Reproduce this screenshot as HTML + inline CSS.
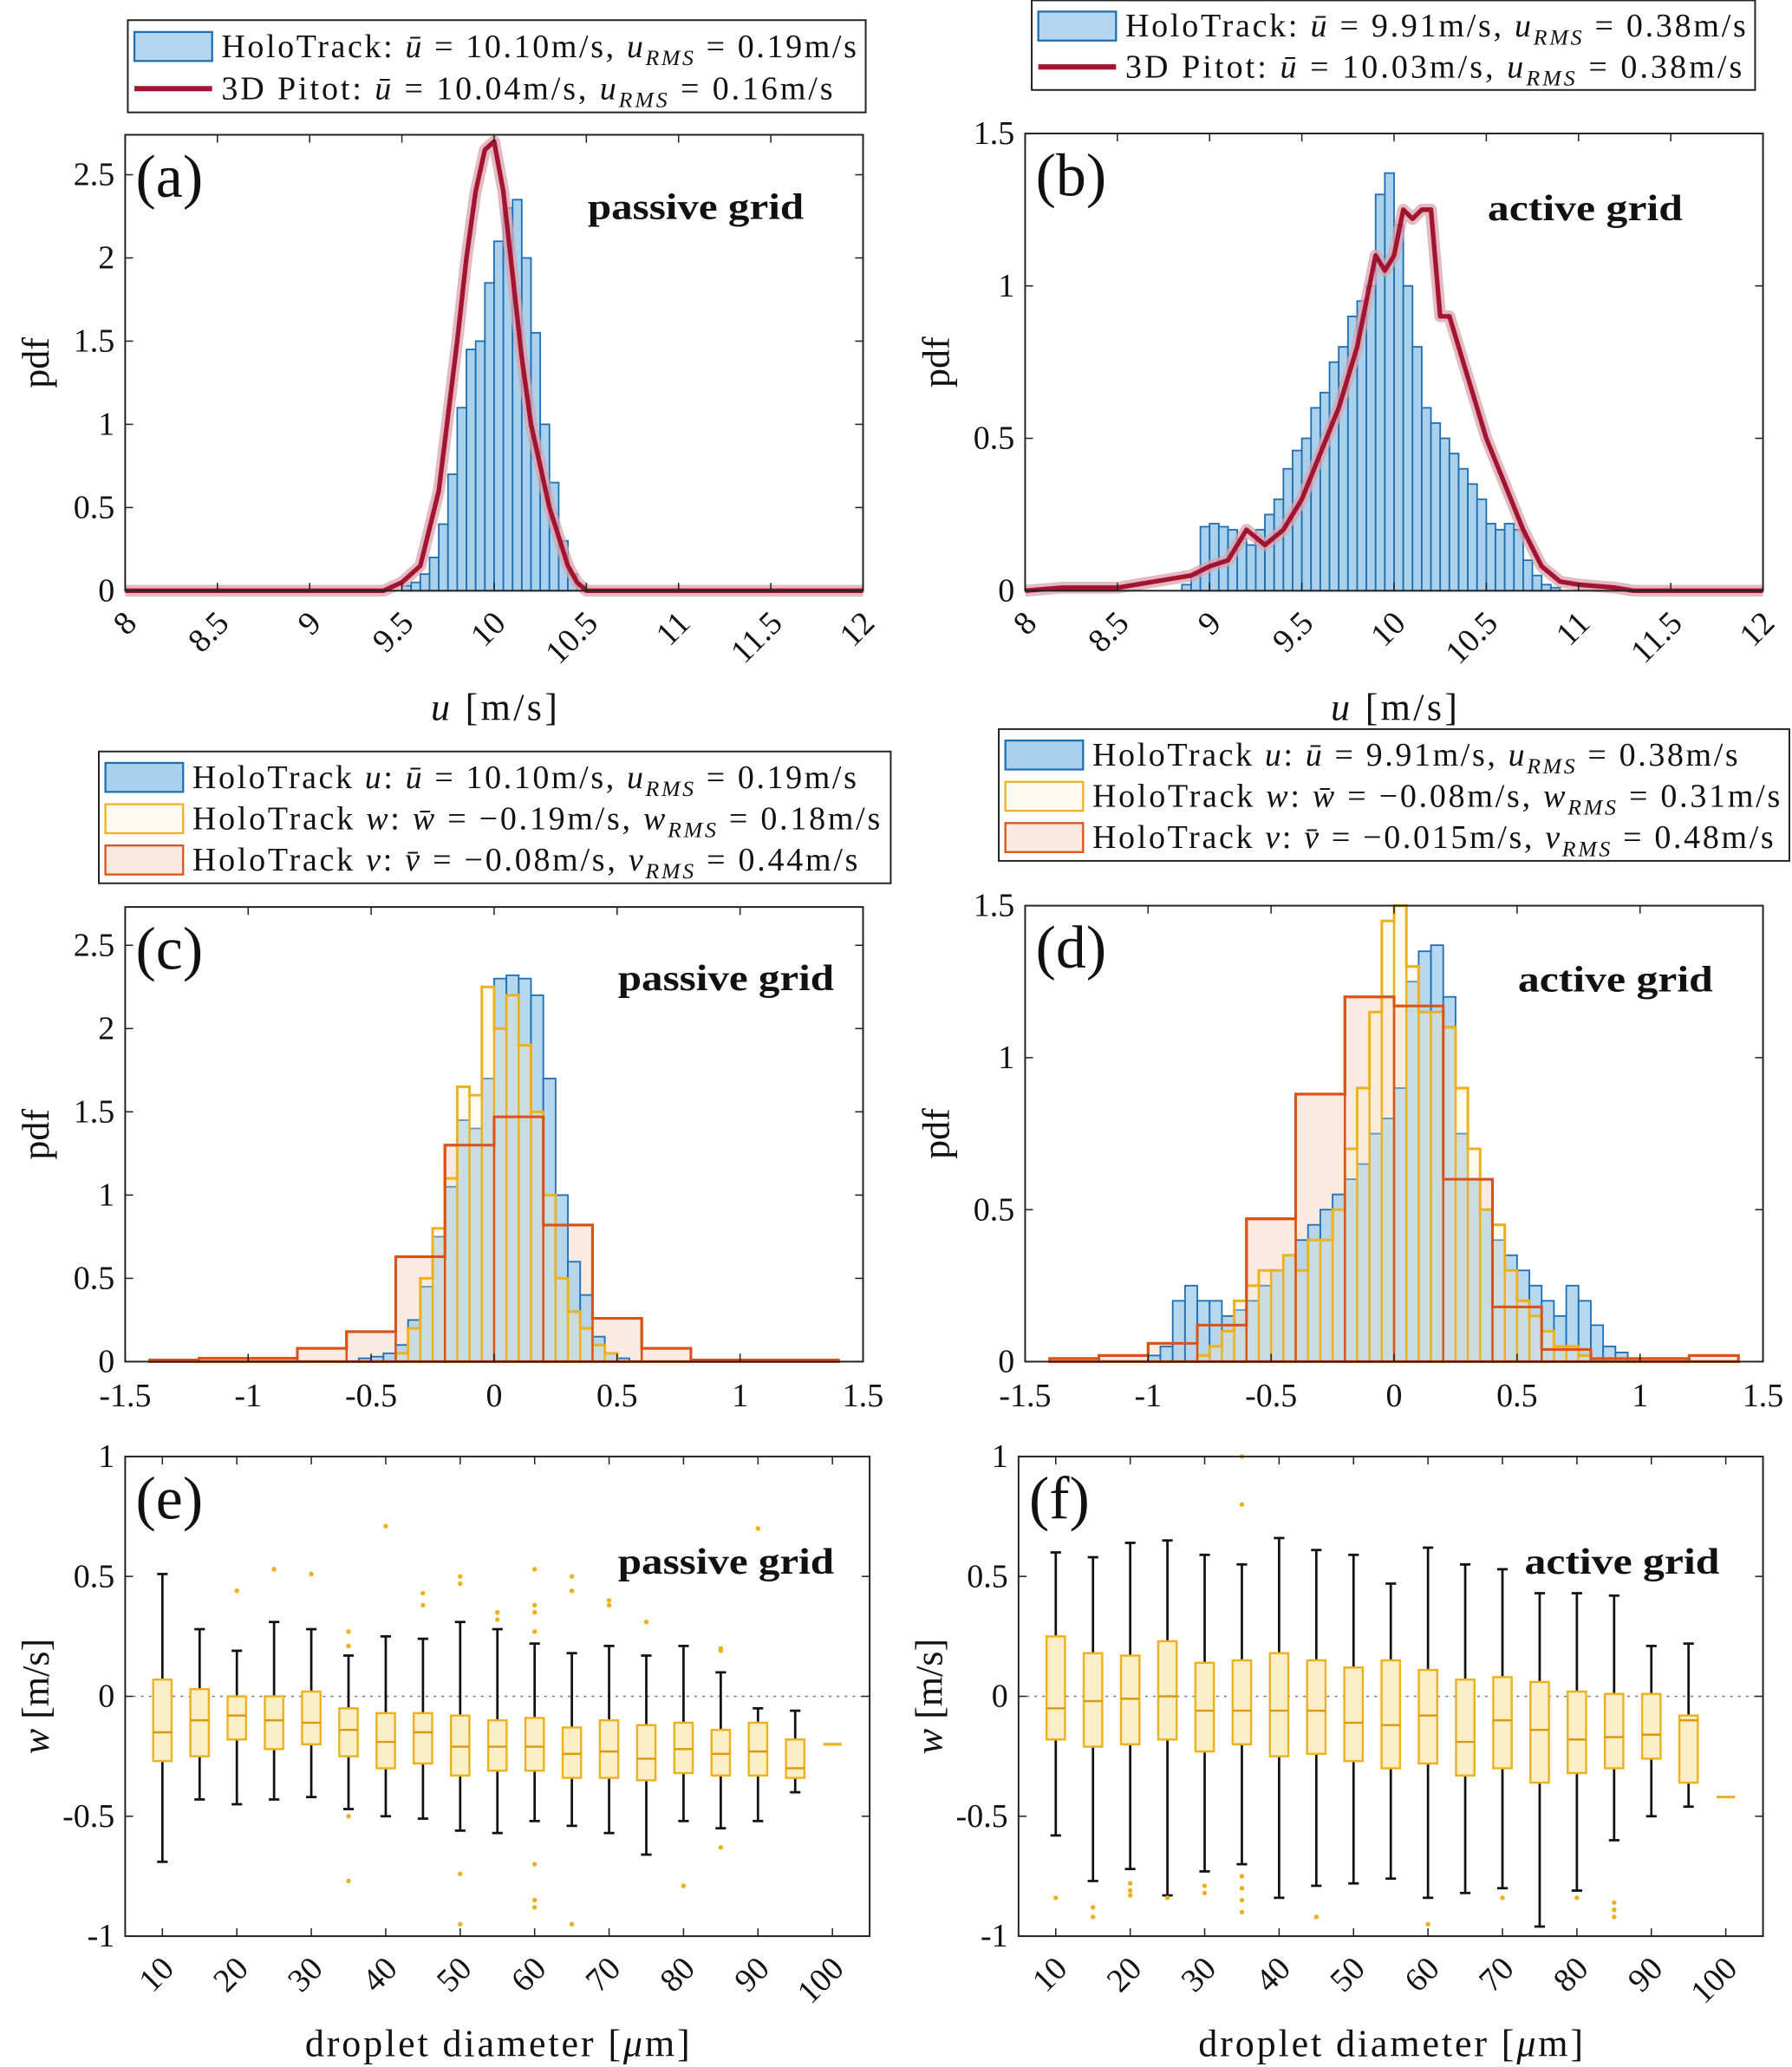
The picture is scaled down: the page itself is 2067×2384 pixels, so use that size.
<!DOCTYPE html>
<html><head><meta charset="utf-8"><style>
html,body{margin:0;padding:0;background:#fff}
svg{display:block}
text{font-family:"Liberation Serif",serif;fill:#111}
</style></head><body>
<svg id="fig" width="2067" height="2384" viewBox="0 0 1360 1568" xmlns="http://www.w3.org/2000/svg"></svg>
<script>
// ---------- DATA ----------
const aHoloStart = 9.5, aHoloWidth = 0.05;
const aHoloVals = [0.03,0.05,0.1,0.2,0.4,0.7,1.1,1.45,1.5,1.85,2.1,2.3,2.35,2.0,1.55,1.0,0.65,0.3,0.1,0.03];
const aPitotX = [8,9.4,9.5,9.6,9.7,9.8,9.85,9.9,9.95,10.0,10.05,10.1,10.15,10.2,10.3,10.4,10.45,10.5,12];
const aPitotY = [0,0,0.05,0.15,0.6,1.5,2.0,2.4,2.65,2.7,2.4,1.9,1.4,1.0,0.5,0.15,0.05,0,0];

const bHoloStart = 8.85, bHoloWidth = 0.05;
const bHoloVals = [0.02,0.05,0.21,0.22,0.21,0.2,0.17,0.15,0.2,0.25,0.3,0.4,0.46,0.5,0.6,0.65,0.75,0.8,0.9,0.95,1.0,1.3,1.37,1.2,1.0,0.8,0.6,0.55,0.5,0.45,0.4,0.35,0.3,0.22,0.2,0.22,0.2,0.1,0.05,0.02,0.01];
const bPitotX = [8,8.2,8.5,8.8,8.9,9.0,9.1,9.2,9.3,9.4,9.5,9.6,9.7,9.8,9.9,9.95,10.0,10.05,10.1,10.15,10.2,10.25,10.3,10.4,10.5,10.6,10.7,10.8,10.9,11.0,11.2,11.3,12];
const bPitotY = [0,0.01,0.01,0.04,0.05,0.08,0.1,0.2,0.15,0.2,0.3,0.45,0.6,0.8,1.1,1.05,1.1,1.25,1.22,1.25,1.25,0.9,0.9,0.7,0.5,0.35,0.2,0.08,0.03,0.02,0.01,0,0];

const cUStart = -0.55, cUWidth = 0.05;
const cUVals = [0.02,0.03,0.05,0.1,0.25,0.45,0.75,1.05,1.45,1.4,1.7,2.3,2.32,2.3,2.2,1.7,1.0,0.6,0.4,0.15,0.05,0.02];
const cWStart = -0.4, cWWidth = 0.05;
const cWVals = [0.05,0.2,0.5,0.8,1.1,1.65,1.6,2.25,2.0,2.2,1.9,1.5,1.0,0.5,0.3,0.2,0.1,0.05];
const cVStart = -1.4, cVWidth = 0.2;
const cVVals = [0.01,0.02,0.02,0.08,0.18,0.63,1.3,1.47,0.82,0.26,0.08,0.01,0.01,0.01];

const dUStart = -1.0, dUWidth = 0.05;
const dUVals = [0.02,0.05,0.2,0.25,0.2,0.2,0.15,0.17,0.2,0.25,0.3,0.35,0.4,0.45,0.5,0.55,0.6,0.65,0.75,0.8,0.9,1.25,1.35,1.37,1.2,0.75,0.6,0.5,0.4,0.35,0.3,0.25,0.2,0.15,0.25,0.2,0.12,0.05,0.03,0.01];
const dWStart = -0.8, dWWidth = 0.05;
const dWVals = [0.02,0.05,0.1,0.2,0.25,0.3,0.3,0.35,0.3,0.4,0.4,0.5,0.7,0.9,1.15,1.45,1.5,1.3,1.15,1.15,1.1,0.9,0.7,0.5,0.45,0.3,0.2,0.15,0.1,0.05,0.05,0.02];
const dVStart = -1.4, dVWidth = 0.2;
const dVVals = [0.01,0.02,0.06,0.12,0.47,0.88,1.2,1.17,0.6,0.18,0.04,0.01,0.01,0.02];

const boxDiam = [10,15,20,25,30,35,40,45,50,55,60,65,70,75,80,85,90,95];
const eLo  = [-0.69,-0.43,-0.45,-0.43,-0.42,-0.47,-0.5,-0.51,-0.56,-0.57,-0.52,-0.54,-0.57,-0.66,-0.52,-0.55,-0.52,-0.4];
const eQ1  = [-0.27,-0.25,-0.18,-0.22,-0.2,-0.25,-0.3,-0.28,-0.33,-0.31,-0.31,-0.34,-0.34,-0.35,-0.32,-0.33,-0.33,-0.34];
const eMed = [-0.15,-0.1,-0.08,-0.1,-0.11,-0.14,-0.19,-0.15,-0.21,-0.21,-0.21,-0.24,-0.23,-0.26,-0.22,-0.24,-0.23,-0.3];
const eQ3  = [0.07,0.03,0,0,0.02,-0.05,-0.07,-0.07,-0.08,-0.1,-0.09,-0.13,-0.1,-0.12,-0.11,-0.14,-0.11,-0.18];
const eHi  = [0.51,0.28,0.19,0.31,0.28,0.17,0.25,0.24,0.31,0.28,0.22,0.18,0.21,0.17,0.21,0.1,-0.05,-0.06];
const eOutD = [20,25,30,35,35,35,35,40,45,45,50,50,50,50,55,55,60,60,60,60,60,60,60,65,65,65,70,70,75,80,85,85,85,90];
const eOutW = [0.44,0.53,0.51,0.21,0.27,-0.5,-0.77,0.71,0.38,0.43,0.5,0.47,-0.74,-0.95,0.32,0.35,0.53,0.38,0.35,0.27,-0.7,-0.85,-0.88,0.5,0.44,-0.95,0.4,0.38,0.31,-0.79,0.2,0.19,-0.63,0.7];
const eSingle = [100,-0.2];

const fLo  = [-0.58,-0.77,-0.72,-0.83,-0.73,-0.7,-0.84,-0.79,-0.78,-0.76,-0.84,-0.82,-0.8,-0.96,-0.81,-0.6,-0.5,-0.46];
const fQ1  = [-0.18,-0.21,-0.2,-0.18,-0.23,-0.2,-0.25,-0.24,-0.27,-0.3,-0.28,-0.33,-0.3,-0.36,-0.32,-0.3,-0.26,-0.36];
const fMed = [-0.05,-0.02,-0.01,0,-0.06,-0.06,-0.06,-0.06,-0.11,-0.12,-0.08,-0.19,-0.1,-0.14,-0.18,-0.17,-0.16,-0.1];
const fQ3  = [0.25,0.18,0.17,0.23,0.14,0.15,0.18,0.15,0.12,0.15,0.11,0.07,0.08,0.06,0.02,0.01,0.01,-0.08];
const fHi  = [0.6,0.58,0.64,0.65,0.59,0.55,0.66,0.61,0.59,0.47,0.62,0.55,0.53,0.43,0.43,0.42,0.21,0.22];
const fOutD = [10,15,15,20,20,20,25,30,30,35,35,35,35,35,35,45,60,70,80,85,85,85];
const fOutW = [-0.84,-0.88,-0.92,-0.78,-0.81,-0.83,-0.84,-0.79,-0.82,1.0,0.8,-0.75,-0.8,-0.85,-0.9,-0.92,-0.95,-0.84,-0.84,-0.86,-0.89,-0.92];
const fSingle = [100,-0.42];

const abTicks = ['8','8.5','9','9.5','10','10.5','11','11.5','12'];
const cdTicks = ['-1.5','-1','-0.5','0','0.5','1','1.5'];
const efTicks = ['10','20','30','40','50','60','70','80','90','100'];

// ---------- HELPERS ----------
const NS='http://www.w3.org/2000/svg';
const svg=document.getElementById('fig');
function mk(tag,attrs,parent){const e=document.createElementNS(NS,tag);for(const k in attrs)e.setAttribute(k,attrs[k]);(parent||svg).appendChild(e);return e;}
function scale(d0,d1,r0,r1){return v=>r0+(v-d0)*(r1-r0)/(d1-d0);}

function axes(name,x0,y0,x1,y1,xd,yd,xt,yt,rot){
  const g=mk('g',{});
  
  
  const sx=scale(xd[0],xd[1],x0,x1), sy=scale(yd[0],yd[1],y1,y0);
  return {g,sx,sy,x0,y0,x1,y1,xt,yt,rot,name};
}
function frame(A){
  const g=A.g;
  mk('rect',{x:A.x0,y:A.y0,width:A.x1-A.x0,height:A.y1-A.y0,fill:'none',stroke:'#222','stroke-width':1.3},g);
  A.xt.forEach(t=>{const x=A.sx(parseFloat(t));
    mk('line',{x1:x,y1:A.y1,x2:x,y2:A.y1-6,stroke:'#222','stroke-width':1},g);
    mk('line',{x1:x,y1:A.y0,x2:x,y2:A.y0+6,stroke:'#222','stroke-width':1},g);
    let tx;
    if(A.rot){tx=mk('text',{x:x+10,y:A.y1+26,'font-size':25,'text-anchor':'end',transform:`rotate(-45 ${x+10} ${A.y1+26})`},g);}
    else tx=mk('text',{x:x,y:A.y1+34,'font-size':25,'text-anchor':'middle'},g);
    tx.textContent=t;
    
    
  });
  A.yt.forEach(t=>{const y=A.sy(parseFloat(t));
    mk('line',{x1:A.x0,y1:y,x2:A.x0+6,y2:y,stroke:'#222','stroke-width':1},g);
    mk('line',{x1:A.x1,y1:y,x2:A.x1-6,y2:y,stroke:'#222','stroke-width':1},g);
    const tx=mk('text',{x:A.x0-8,y:y+8,'font-size':25,'text-anchor':'end'},g);
    tx.textContent=t;
    
    
  });
}
function hist(A,start,w,vals,fill,stroke,op,name){
  const g=mk('g',{},A.g);
  
  
  vals.forEach((v,i)=>{const l=A.sx(start+i*w), r=A.sx(start+(i+1)*w), t=A.sy(v), b=A.sy(0);
    const rc=mk('rect',{x:l,y:t,width:r-l,height:b-t,fill:fill,'fill-opacity':op,stroke:stroke,'stroke-width':1.2},g);
    
    
  });
  return g;
}
function stairs(A,start,w,vals,fill,stroke,op,name){
  let d=`M${A.sx(start)},${A.sy(0)}`;
  vals.forEach((v,i)=>{d+=` L${A.sx(start+i*w)},${A.sy(v)} L${A.sx(start+(i+1)*w)},${A.sy(v)}`;});
  d+=` L${A.sx(start+vals.length*w)},${A.sy(0)} Z`;
  const p=mk('path',{d,fill:fill,'fill-opacity':op,stroke:stroke,'stroke-width':2},A.g);
  
  
  vals.forEach((v,i)=>{if(i==0)return;const x=A.sx(start+i*w);const h=Math.min(v,vals[i-1]);
    mk('line',{x1:x,y1:A.sy(0),x2:x,y2:A.sy(h),stroke:stroke,'stroke-width':1.6},A.g);});
}
function line(A,xs,ys,name){
  const pts=xs.map((x,i)=>`${A.sx(x)},${A.sy(ys[i])}`).join(' ');
  mk('polyline',{points:pts,fill:'none',stroke:'#d9a3ad','stroke-width':9,'stroke-linejoin':'round','stroke-opacity':0.75},A.g);
  const p=mk('polyline',{points:pts,fill:'none',stroke:'#a2142f','stroke-width':3.5,'stroke-linejoin':'round'},A.g);
  
  
}
function labels(A,tag,title,tx,ty,tw){
  const t1=mk('text',{x:A.x0+8,y:A.y0+47,'font-size':46},A.g);t1.textContent=tag;
  
  
  const t2=mk('text',{x:tx,y:ty,'font-size':28,'font-weight':'bold',textLength:tw,lengthAdjust:'spacingAndGlyphs'},A.g);t2.textContent=title;
  
  
}
function axTitles(A,xl,yl,xly,xlw){
  const cx=(A.x0+A.x1)/2, cy=(A.y0+A.y1)/2;
  if(xl){const t=mk('text',{x:cx,y:xly,'font-size':29,'text-anchor':'middle'},A.g);t.innerHTML=xl;
    if(xlw){t.setAttribute('textLength',xlw);t.setAttribute('lengthAdjust','spacing');}
    
    }
  const yx=A.x0-58;
  const t=mk('text',{x:yx,y:cy,'font-size':29,'text-anchor':'middle',transform:`rotate(-90 ${yx} ${cy})`},A.g);t.innerHTML=yl;
  
  
}
function boxes(A,lo,q1,med,q3,hi,od,ow,single,name){
  const g=mk('g',{},A.g);
  
  
  mk('line',{x1:A.x0,y1:A.sy(0),x2:A.x1,y2:A.sy(0),stroke:'#777','stroke-width':1,'stroke-dasharray':'2,4'},g);
  const hw=7;
  boxDiam.forEach((d,i)=>{const x=A.sx(d);
    mk('line',{x1:x,y1:A.sy(lo[i]),x2:x,y2:A.sy(q1[i]),stroke:'#111','stroke-width':1.8},g);
    mk('line',{x1:x,y1:A.sy(q3[i]),x2:x,y2:A.sy(hi[i]),stroke:'#111','stroke-width':1.8},g);
    mk('line',{x1:x-4,y1:A.sy(lo[i]),x2:x+4,y2:A.sy(lo[i]),stroke:'#111','stroke-width':1.8},g);
    mk('line',{x1:x-4,y1:A.sy(hi[i]),x2:x+4,y2:A.sy(hi[i]),stroke:'#111','stroke-width':1.8},g);
    const r=mk('rect',{x:x-hw,y:A.sy(q3[i]),width:2*hw,height:A.sy(q1[i])-A.sy(q3[i]),fill:'#fcefc7',stroke:'#edb120','stroke-width':1.6},g);
    
    
    mk('line',{x1:x-hw,y1:A.sy(med[i]),x2:x+hw,y2:A.sy(med[i]),stroke:'#d99a10','stroke-width':1.6},g);
  });
  od.forEach((d,i)=>{mk('circle',{cx:A.sx(d),cy:A.sy(ow[i]),r:1.8,fill:'#edb120'},g);});
  const x=A.sx(single[0]);
  mk('line',{x1:x-hw,y1:A.sy(single[1]),x2:x+hw,y2:A.sy(single[1]),stroke:'#edb120','stroke-width':2},g);
}
function legend(name,x,y,w,h,rows){
  const g=mk('g',{});
  
  
  mk('rect',{x,y,width:w,height:h,fill:'#fff',stroke:'#222','stroke-width':1.3},g);
  const rh=(h-6)/rows.length;
  rows.forEach((r,i)=>{const cy=y+4+rh*(i+0.5);
    if(r.type==='line'){mk('line',{x1:x+5,y1:cy,x2:x+64,y2:cy,stroke:'#a2142f','stroke-width':4},g);}
    else mk('rect',{x:x+5,y:cy-11,width:59,height:22,fill:r.fill,stroke:r.stroke,'stroke-width':1.5},g);
    const t=mk('text',{x:x+71,y:cy+8,'font-size':25,textLength:r.len,lengthAdjust:'spacing'},g);t.innerHTML=r.text;
    
    
  });
}
const it=s=>`<tspan font-style="italic">${s}</tspan>`;
const sub=s=>`<tspan font-style="italic" font-size="17" dy="6">${s}</tspan><tspan dy="-6"> </tspan>`;

// ---------- PANEL A ----------
let A=axes('panel-a',95,102,655,448,[8,12],[0,2.74],abTicks,['0','0.5','1','1.5','2','2.5'],true);
hist(A,aHoloStart,aHoloWidth,aHoloVals,'#a9d1ec','#1f6fb4',1,'holotrack-hist');
line(A,aPitotX,aPitotY,'pitot-line');
frame(A);labels(A,'(a)','passive grid',446,166,164);
axTitles(A,`${it('u')} [m/s]`,'pdf',546,96);
legend('legend-a',97,15,560,70,[
 {type:'rect',fill:'#b5d6ee',stroke:'#1f6fb4',len:482,text:`HoloTrack: ${it('ū')} = 10.10m/s, ${it('u')}${sub('RMS')}= 0.19m/s`},
 {type:'line',len:464,text:`3D Pitot: ${it('ū')} = 10.04m/s, ${it('u')}${sub('RMS')}= 0.16m/s`}]);

// ---------- PANEL B ----------
A=axes('panel-b',778,101,1338,448,[8,12],[0,1.5],abTicks,['0','0.5','1','1.5'],true);
hist(A,bHoloStart,bHoloWidth,bHoloVals,'#a9d1ec','#1f6fb4',1,'holotrack-hist');
line(A,bPitotX,bPitotY,'pitot-line');
frame(A);labels(A,'(b)','active grid',1129,167,148);
axTitles(A,`${it('u')} [m/s]`,'pdf',546,96);
legend('legend-b',783,0,549,68,[
 {type:'rect',fill:'#b5d6ee',stroke:'#1f6fb4',len:471,text:`HoloTrack: ${it('ū')} = 9.91m/s, ${it('u')}${sub('RMS')}= 0.38m/s`},
 {type:'line',len:468,text:`3D Pitot: ${it('ū')} = 10.03m/s, ${it('u')}${sub('RMS')}= 0.38m/s`}]);

// ---------- PANEL C ----------
A=axes('panel-c',95,688,655,1033,[-1.5,1.5],[0,2.73],cdTicks,['0','0.5','1','1.5','2','2.5'],false);
stairs(A,cVStart,cVWidth,cVVals,'#f4c4ad','#d95319',0.35,'holotrack-v-hist');
hist(A,cUStart,cUWidth,cUVals,'#a9d1ec','#1f6fb4',0.85,'holotrack-u-hist');
stairs(A,cWStart,cWWidth,cWVals,'#fdf0c8','#edb120',0.3,'holotrack-w-hist');
stairs(A,cVStart,cVWidth,cVVals,'none','#d95319',0,'holotrack-v-outline');
frame(A);labels(A,'(c)','passive grid',469,751,164);
axTitles(A,null,'pdf');
legend('legend-c',75,570,601,100,[
 {type:'rect',fill:'#a9d1ec',stroke:'#1f6fb4',len:504,text:`HoloTrack ${it('u')}: ${it('ū')} = 10.10m/s, ${it('u')}${sub('RMS')}= 0.19m/s`},
 {type:'rect',fill:'#fffaf0',stroke:'#edb120',len:522,text:`HoloTrack ${it('w')}: ${it('w̄')} = −0.19m/s, ${it('w')}${sub('RMS')}= 0.18m/s`},
 {type:'rect',fill:'#fbe9e0',stroke:'#d95319',len:505,text:`HoloTrack ${it('v')}: ${it('v̄')} = −0.08m/s, ${it('v')}${sub('RMS')}= 0.44m/s`}]);

// ---------- PANEL D ----------
A=axes('panel-d',778,687,1338,1033,[-1.5,1.5],[0,1.5],cdTicks,['0','0.5','1','1.5'],false);
stairs(A,dVStart,dVWidth,dVVals,'#f4c4ad','#d95319',0.35,'holotrack-v-hist');
hist(A,dUStart,dUWidth,dUVals,'#a9d1ec','#1f6fb4',0.85,'holotrack-u-hist');
stairs(A,dWStart,dWWidth,dWVals,'#fdf0c8','#edb120',0.3,'holotrack-w-hist');
stairs(A,dVStart,dVWidth,dVVals,'none','#d95319',0,'holotrack-v-outline');
frame(A);labels(A,'(d)','active grid',1152,752,148);
axTitles(A,null,'pdf');
legend('legend-d',758,553,600,100,[
 {type:'rect',fill:'#a9d1ec',stroke:'#1f6fb4',len:490,text:`HoloTrack ${it('u')}: ${it('ū')} = 9.91m/s, ${it('u')}${sub('RMS')}= 0.38m/s`},
 {type:'rect',fill:'#fffaf0',stroke:'#edb120',len:522,text:`HoloTrack ${it('w')}: ${it('w̄')} = −0.08m/s, ${it('w')}${sub('RMS')}= 0.31m/s`},
 {type:'rect',fill:'#fbe9e0',stroke:'#d95319',len:517,text:`HoloTrack ${it('v')}: ${it('v̄')} = −0.015m/s, ${it('v')}${sub('RMS')}= 0.48m/s`}]);

// ---------- PANEL E ----------
A=axes('panel-e',95,1105,660,1469,[5,105],[-1,1],efTicks,['-1','-0.5','0','0.5','1'],true);
boxes(A,eLo,eQ1,eMed,eQ3,eHi,eOutD,eOutW,eSingle,'boxplot-passive');
frame(A);labels(A,'(e)','passive grid',469,1194,164);
axTitles(A,'droplet diameter [<tspan font-style="italic">μ</tspan>m]',`${it('w')} [m/s]`,1560,292);

// ---------- PANEL F ----------
A=axes('panel-f',773,1105,1338,1469,[5,105],[-1,1],efTicks,['-1','-0.5','0','0.5','1'],true);
boxes(A,fLo,fQ1,fMed,fQ3,fHi,fOutD,fOutW,fSingle,'boxplot-active');
frame(A);labels(A,'(f)','active grid',1157,1194,148);
axTitles(A,'droplet diameter [<tspan font-style="italic">μ</tspan>m]',`${it('w')} [m/s]`,1560,292);
</script>
</body></html>
